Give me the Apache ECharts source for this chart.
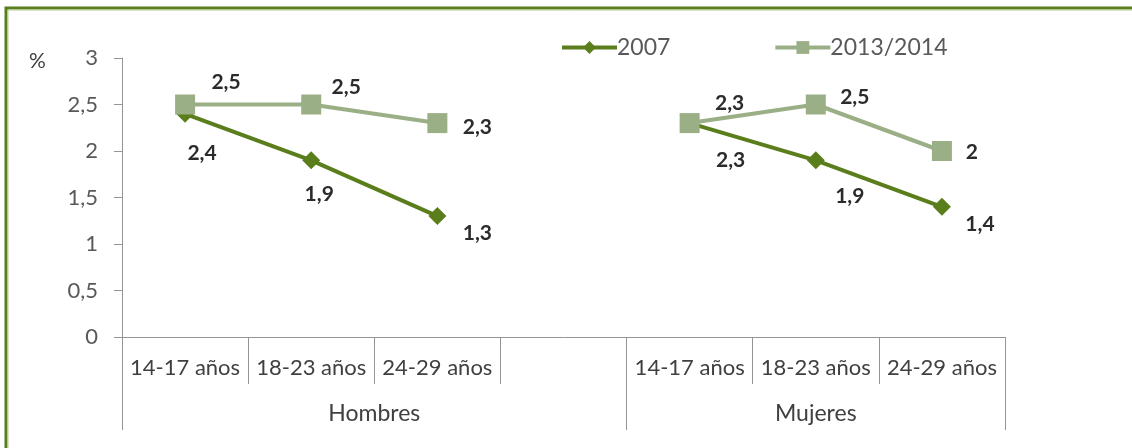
<!DOCTYPE html>
<html>
<head>
<meta charset="utf-8">
<title>Tasa por grupo de edad y sexo</title>
<script src="https://cdn.jsdelivr.net/npm/echarts@6/dist/echarts.min.js"></script>
<style>
  html, body { margin: 0; padding: 0; background: #ffffff; }
  #chart { width: 1132px; height: 448px; }
</style>
</head>
<body>
<div id="chart"></div>
<script>
// Age bands per sex; the blank entry leaves a gap between the two groups
const categories = ['14-17 años', '18-23 años', '24-29 años', '', '14-17 años', '18-23 años', '24-29 años'];
const groupNames = ['Hombres', 'Mujeres'];
const groupSizes = [4, 3];
const seriesNames = ['2007', '2013/2014'];
const values2007 = [2.4, 1.9, 1.3, null, 2.3, 1.9, 1.4];
const values2013 = [2.5, 2.5, 2.3, null, 2.3, 2.5, 2.0];
const yTicks = [0, 0.5, 1, 1.5, 2, 2.5, 3];

// Label placement around each marker (dx, dy from the marker centre)
const shift2007 = [[17, 39], [8, 34], [40, 17], null, [41, 37], [34, 36], [38, 17]];
const shift2013 = [[41, -22], [35, -17], [40, 4], null, [40, -20], [39, -7], [30, 1]];

const DARK = '#5a7e1c';
const LIGHT = '#9aaf86';
const AXIS = '#959595';
const fmt = v => String(v).replace('.', ',');

// Group boundaries and centres on a 0..7 scale under the category axis
const bounds = [0];
groupSizes.forEach(s => bounds.push(bounds[bounds.length - 1] + s));
const centres = groupSizes.map((s, i) => bounds[i] + s / 2);

function withLabels(vals, shifts) {
  return vals.map((v, i) => v == null ? null : {
    value: v,
    label: { offset: shifts[i] }
  });
}

const labelStyle = {
  show: true,
  position: 'inside',
  align: 'center',
  verticalAlign: 'middle',
  formatter: p => fmt(p.value),
  fontFamily: 'Lato',
  fontWeight: 'bold',
  fontSize: 21,
  color: '#2b2b2b'
};

const chart = echarts.init(document.getElementById('chart'), null, { renderer: 'canvas' });
chart.setOption({
  animation: false,
  backgroundColor: '#ffffff',
  grid: { left: 122, right: 127, top: 58, bottom: 111, containLabel: false },
  legend: {
    left: 555,
    top: 31,
    itemGap: 103,
    itemWidth: 55,
    itemHeight: 16,
    lineStyle: { width: 4 },
    textStyle: { fontFamily: 'Lato', fontSize: 23, color: '#595959', padding: [0, 0, 0, -5] },
    data: seriesNames
  },
  xAxis: [
    {
      type: 'category',
      data: categories,
      boundaryGap: true,
      axisLine: { lineStyle: { color: AXIS, width: 1 } },
      axisTick: { show: true, interval: 0, length: 47, lineStyle: { color: AXIS } },
      axisLabel: { interval: 0, margin: 20, fontFamily: 'Lato', fontSize: 22, color: '#404040' }
    },
    {
      type: 'value',
      position: 'bottom',
      offset: 0,
      min: 0,
      max: bounds[bounds.length - 1],
      axisLine: { show: false },
      splitLine: { show: false },
      axisTick: { show: true, customValues: bounds, length: 93, lineStyle: { color: AXIS } },
      axisLabel: {
        customValues: centres,
        margin: 65,
        fontFamily: 'Lato',
        fontSize: 23,
        color: '#404040',
        formatter: v => groupNames[centres.indexOf(v)] || ''
      }
    }
  ],
  yAxis: {
    type: 'value',
    min: yTicks[0],
    max: yTicks[yTicks.length - 1],
    interval: 0.5,
    axisLine: { show: true, lineStyle: { color: AXIS } },
    axisTick: { show: true, length: 8, lineStyle: { color: AXIS } },
    splitLine: { show: false },
    axisLabel: { margin: 24, fontFamily: 'Lato', fontSize: 22, color: '#595959', formatter: fmt }
  },
  graphic: [
    {
      type: 'rect',
      shape: { x: 6, y: 8, width: 1140, height: 460 },
      style: { fill: 'none', stroke: DARK, lineWidth: 3 },
      silent: true
    },
    {
      type: 'rect',
      shape: { x: 8, y: 10, width: 1140, height: 460 },
      style: { fill: 'none', stroke: '#b6cc94', lineWidth: 1 },
      silent: true
    },
    {
      type: 'text',
      left: 29,
      top: 51,
      style: { text: '%', fontFamily: 'Lato', fontSize: 21, fill: '#404040' }
    }
  ],
  series: [
    {
      name: seriesNames[0],
      type: 'line',
      data: withLabels(values2007, shift2007),
      connectNulls: false,
      symbol: 'diamond',
      symbolSize: 18,
      itemStyle: { color: DARK },
      lineStyle: { color: DARK, width: 4 },
      label: labelStyle,
      z: 2
    },
    {
      name: seriesNames[1],
      type: 'line',
      data: withLabels(values2013, shift2013),
      connectNulls: false,
      symbol: 'rect',
      symbolSize: 20,
      itemStyle: { color: LIGHT },
      lineStyle: { color: LIGHT, width: 4 },
      label: labelStyle,
      z: 3
    }
  ]
});
</script>
</body>
</html>
